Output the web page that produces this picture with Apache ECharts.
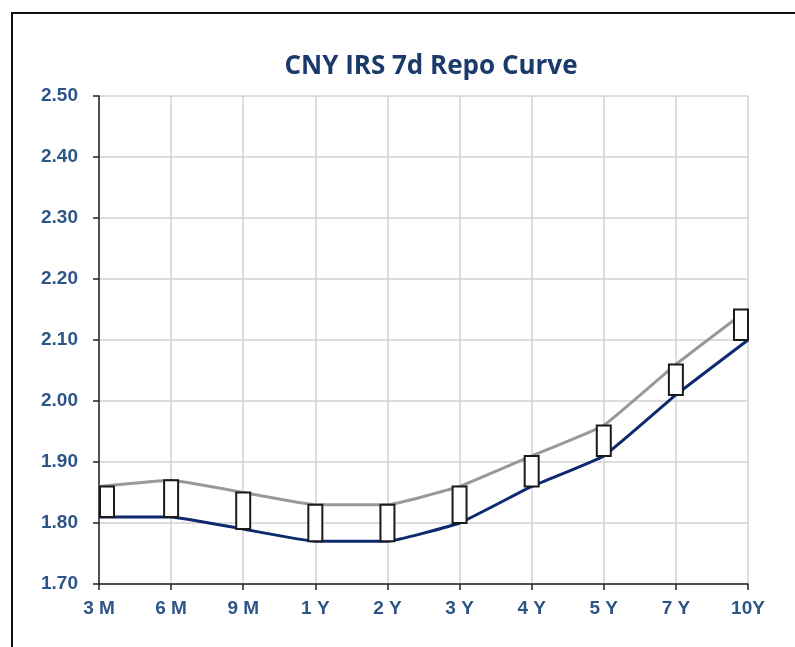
<!DOCTYPE html>
<html>
<head>
<meta charset="utf-8">
<script src="https://cdn.jsdelivr.net/npm/echarts@6/dist/echarts.min.js"></script>
<style>
  html, body { margin: 0; padding: 0; background: #fff; }
  #chart { width: 795px; height: 647px; }
</style>
</head>
<body>
<div id="chart"></div>
<script>
// tenors and the two curves
var tenors = ['3 M', '6 M', '9 M', '1 Y', '2 Y', '3 Y', '4 Y', '5 Y', '7 Y', '10Y'];
var upperCurve = [1.86, 1.87, 1.85, 1.83, 1.83, 1.86, 1.91, 1.96, 2.06, 2.15];
var lowerCurve = [1.81, 1.81, 1.79, 1.77, 1.77, 1.80, 1.86, 1.91, 2.01, 2.10];

var labelColor = '#2d5587';

var myChart = echarts.init(document.getElementById('chart'));

// white bars between the two curves
var boxData = tenors.map(function (t, i) {
    return [i, lowerCurve[i], upperCurve[i]];
});

var option = {
    animation: false,
    backgroundColor: '#fff',
    graphic: [{
        type: 'rect',
        shape: { x: 12, y: 13, width: 900, height: 900 },
        style: { fill: 'none', stroke: '#111', lineWidth: 2 },
        silent: true
    }],
    title: {
        text: 'CNY IRS 7d Repo Curve',
        left: 426,
        textAlign: 'center',
        top: 49,
        textStyle: {
            fontFamily: 'Open Sans',
            fontWeight: 'bold',
            fontSize: 26,
            color: '#1a3a6b'
        }
    },
    grid: { left: 99, right: 47, top: 96, bottom: 63 },
    xAxis: {
        type: 'category',
        data: tenors,
        boundaryGap: false,
        axisLine: { lineStyle: { color: '#222', width: 1.5 } },
        axisTick: { show: true, length: 6, lineStyle: { color: '#222', width: 1.5 } },
        axisLabel: {
            interval: 0,
            margin: 15,
            color: labelColor,
            fontFamily: 'Liberation Sans',
            fontWeight: 'bold',
            fontSize: 19
        },
        splitLine: { show: true, lineStyle: { color: '#d2d2d2', width: 1.5 } }
    },
    yAxis: {
        type: 'value',
        min: 1.7,
        max: 2.5,
        interval: 0.1,
        axisLine: { show: true, lineStyle: { color: '#222', width: 1.5 } },
        axisTick: { show: true, length: 6, lineStyle: { color: '#222', width: 1.5 } },
        axisLabel: {
            margin: 21,
            color: labelColor,
            fontFamily: 'Liberation Sans',
            fontWeight: 'bold',
            fontSize: 19,
            formatter: function (v) { return v.toFixed(2); }
        },
        splitLine: { show: true, lineStyle: { color: '#d2d2d2', width: 1.5 } }
    },
    series: [
        {
            name: 'upper',
            type: 'line',
            data: upperCurve,
            smooth: 0.1,
            symbol: 'none',
            lineStyle: { color: '#999999', width: 3 },
            z: 2
        },
        {
            name: 'lower',
            type: 'line',
            data: lowerCurve,
            smooth: 0.1,
            symbol: 'none',
            lineStyle: { color: '#0d2a6e', width: 3 },
            z: 3
        },
        {
            name: 'bars',
            type: 'custom',
            data: boxData,
            z: 5,
            clip: false,
            renderItem: function (params, api) {
                var idx = api.value(0);
                var lo = api.coord([idx, api.value(1)]);
                var hi = api.coord([idx, api.value(2)]);
                var w = 14;
                var x = lo[0] - w / 2;
                if (idx === 0) x = lo[0] + 1;
                if (idx === tenors.length - 1) x = lo[0] - w;
                return {
                    type: 'rect',
                    shape: { x: x, y: hi[1], width: w, height: lo[1] - hi[1] },
                    style: { fill: '#fff', stroke: '#1a1a1a', lineWidth: 2 }
                };
            }
        }
    ]
};

myChart.setOption(option);
window.addEventListener("resize", function () {
    myChart.resize();
});
</script>
</body>
</html>
